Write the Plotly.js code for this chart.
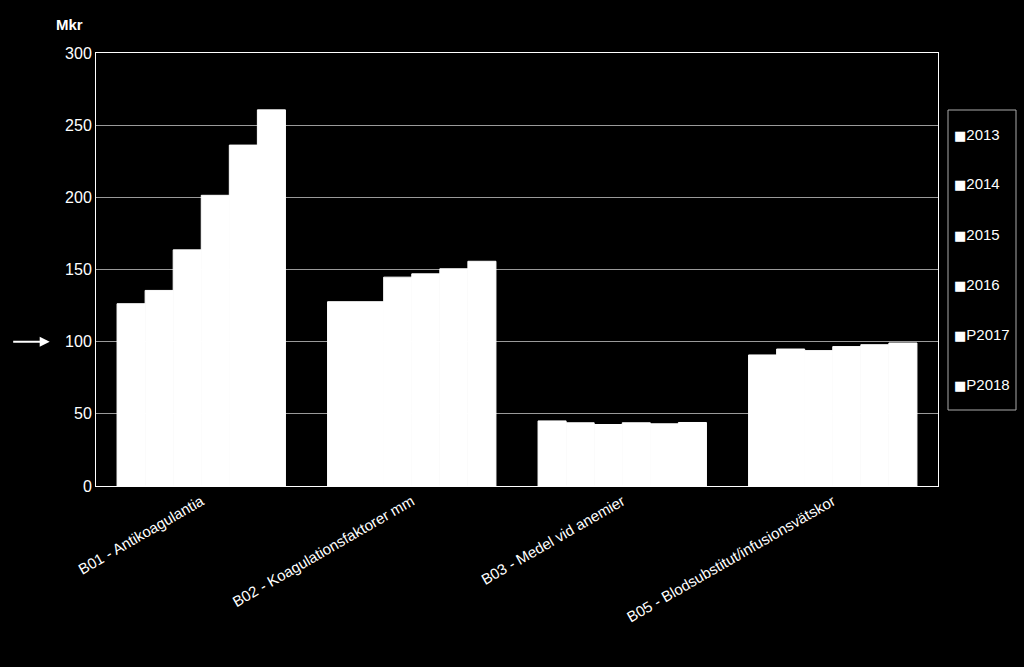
<!DOCTYPE html>
<html>
<head>
<meta charset="utf-8">
<script src="https://cdn.plot.ly/plotly-3.0.1.min.js"></script>
<style>
  html, body { margin: 0; padding: 0; background: #000; }
  #chart { width: 1024px; height: 667px; }
</style>
</head>
<body>
<div id="chart"></div>
<script>
// categories and yearly values (Mkr)
var categories = [
    'B01 - Antikoagulantia',
    'B02 - Koagulationsfaktorer mm',
    'B03 - Medel vid anemier',
    'B05 - Blodsubstitut/infusionsvätskor'
];
var years = ['2013', '2014', '2015', '2016', 'P2017', 'P2018'];

var v2013 = [126.3, 127.7, 45.1, 90.8];
var v2014 = [135.5, 127.7, 43.8, 94.9];
var v2015 = [163.6, 144.7, 42.6, 93.8];
var v2016 = [201.4, 147.0, 43.8, 96.6];
var vP2017 = [236.2, 150.5, 43.1, 97.9];
var vP2018 = [260.6, 155.7, 44.0, 99.1];

var series = [v2013, v2014, v2015, v2016, vP2017, vP2018];

var graphdata = series.map(function (vals, i) {
    return {
        x: categories,
        y: vals,
        name: years[i],
        type: 'bar',
        marker: { color: '#ffffff', line: { color: '#ffffff', width: 1 } },
        hoverinfo: 'y+name'
    };
});

// plot area in pixels: x 96..938, y 53..486
var plotW = 842, plotH = 433;
function px2x(px) { return (px - 96) / plotW; }
function px2y(py) { return (486 - py) / plotH; }

var annotations = [
    {
        text: '<b>Mkr</b>',
        xref: 'paper', yref: 'paper',
        x: -0.031, y: 1.065,
        xanchor: 'center', yanchor: 'middle',
        showarrow: false,
        font: { size: 15, color: '#ffffff' }
    },
    {
        // arrow pointing at the 100 tick
        text: '',
        xref: 'paper', yref: 'y',
        x: -0.055, y: 100,
        ax: -38, ay: 0,
        showarrow: true,
        arrowhead: 2,
        arrowsize: 1,
        arrowwidth: 2,
        arrowcolor: '#ffffff'
    }
];

// narrow legend like the original: square + year, one per row
years.forEach(function (yr, i) {
    annotations.push({
        text: '<span style="font-family:DejaVu Sans;font-size:13px">■</span>' + yr,
        xref: 'paper', yref: 'paper',
        x: px2x(952), y: px2y(134 + i * 50),
        xanchor: 'left', yanchor: 'middle',
        showarrow: false,
        font: { size: 15, color: '#ffffff' }
    });
});

var layout = {
    width: 1024,
    height: 667,
    paper_bgcolor: '#000000',
    plot_bgcolor: '#000000',
    font: { family: 'Liberation Sans, Arial, sans-serif', color: '#ffffff', size: 14 },
    barmode: 'group',
    bargap: 0.2,
    bargroupgap: 0,
    margin: { l: 96, r: 86, t: 53, b: 181, pad: 0, autoexpand: false },
    showlegend: false,
    xaxis: {
        tickangle: -30,
        tickfont: { size: 15, color: '#ffffff' },
        showline: true,
        linecolor: '#ffffff',
        linewidth: 1,
        mirror: true,
        ticks: '',
        showgrid: false
    },
    yaxis: {
        range: [0, 300],
        dtick: 50,
        tickfont: { size: 16, color: '#ffffff' },
        showline: true,
        linecolor: '#ffffff',
        linewidth: 1,
        mirror: true,
        gridcolor: '#9a9a9a',
        gridwidth: 1,
        zeroline: false,
        ticks: '',
        ticklen: 0
    },
    shapes: [
        {
            type: 'rect',
            xref: 'paper', yref: 'paper',
            x0: px2x(948), x1: px2x(1016),
            y0: px2y(410), y1: px2y(110),
            line: { color: '#aaaaaa', width: 1 }
        }
    ],
    annotations: annotations
};

Plotly.newPlot('chart', graphdata, layout, { displayModeBar: false });
</script>
</body>
</html>
